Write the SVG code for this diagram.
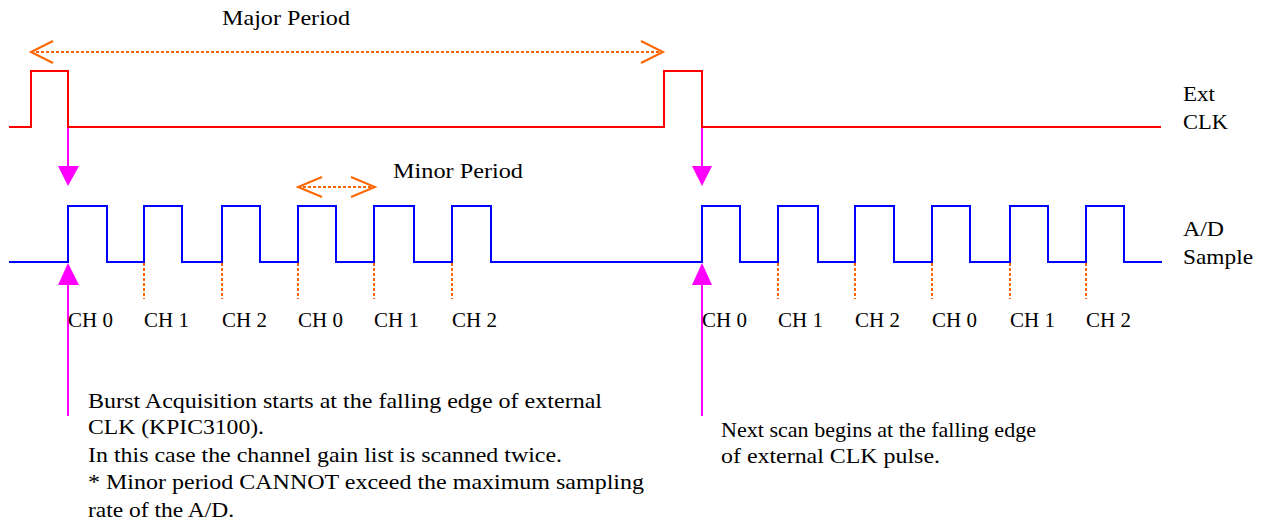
<svg xmlns="http://www.w3.org/2000/svg" width="1271" height="525" viewBox="0 0 1271 525">
<style>
text{font-family:"Liberation Serif","Times New Roman",serif;font-size:21px;fill:#000}
.clk{fill:none;stroke:#ff0000;stroke-width:2}
.ad{fill:none;stroke:#0000ff;stroke-width:2}
.dot{stroke:#ff6600;stroke-width:2;stroke-dasharray:3 2;fill:none}
.mag{stroke:#ff00ff;stroke-width:2;fill:none}
.magh{fill:#ff00ff;stroke:none}
.chev{fill:none;stroke:#ff6600;stroke-width:2}
</style>
<rect width="1271" height="525" fill="#fff"/>
<g id="connectors">
  <line class="dot" x1="31" y1="52" x2="663" y2="52"/>
  <polyline class="chev" points="53,41 31,52 53,63"/>
  <polyline class="chev" points="641,41 663,52 641,63"/>
  <line class="dot" x1="298" y1="187" x2="375" y2="187"/>
  <polyline class="chev" points="322,177 298,187 322,197"/>
  <polyline class="chev" points="351,177 375,187 351,197"/>
  <line class="mag" x1="68" y1="127" x2="68" y2="167"/>
  <polygon class="magh" points="58,166 79,166 68,186"/>
  <line class="mag" x1="702" y1="127" x2="702" y2="167"/>
  <polygon class="magh" points="692,166 712,166 702,186"/>
  <line class="mag" x1="68" y1="283" x2="68" y2="416"/>
  <polygon class="magh" points="58,285 79,285 68,263"/>
  <line class="mag" x1="702" y1="283" x2="702" y2="416"/>
  <polygon class="magh" points="692,285 712,285 702,263"/>
  <g class="dot">
    <line x1="144" y1="263" x2="144" y2="299"/>
    <line x1="222" y1="263" x2="222" y2="299"/>
    <line x1="298" y1="263" x2="298" y2="299"/>
    <line x1="374" y1="263" x2="374" y2="299"/>
    <line x1="452" y1="263" x2="452" y2="299"/>
    <line x1="778" y1="263" x2="778" y2="299"/>
    <line x1="855" y1="263" x2="855" y2="299"/>
    <line x1="932" y1="263" x2="932" y2="299"/>
    <line x1="1010" y1="263" x2="1010" y2="299"/>
    <line x1="1086" y1="263" x2="1086" y2="299"/>
  </g>
</g>
<g id="ext-clk">
  <polyline class="clk" points="9,127 31,127 31,71 68,71 68,127 664,127 664,71 702,71 702,127 1161,127"/>
  <text x="1183" y="101" textLength="32" lengthAdjust="spacingAndGlyphs">Ext</text>
  <text x="1183" y="129" textLength="45" lengthAdjust="spacingAndGlyphs">CLK</text>
</g>
<g id="ad-sample">
  <polyline class="ad" points="9,262 68,262 68,206 107,206 107,262 144,262 144,206 182,206 182,262 222,262 222,206 260,206 260,262 298,262 298,206 336,206 336,262 374,262 374,206 414,206 414,262 452,262 452,206 491,206 491,262 702,262 702,206 740,206 740,262 778,262 778,206 818,206 818,262 855,262 855,206 894,206 894,262 932,262 932,206 970,206 970,262 1010,262 1010,206 1048,206 1048,262 1086,262 1086,206 1124,206 1124,262 1162,262"/>
  <text x="1183" y="236" textLength="41" lengthAdjust="spacingAndGlyphs">A/D</text>
  <text x="1183" y="264" textLength="70" lengthAdjust="spacingAndGlyphs">Sample</text>
</g>
<g id="channels">
  <text x="68" y="327">CH 0</text>
  <text x="144" y="327">CH 1</text>
  <text x="222" y="327">CH 2</text>
  <text x="298" y="327">CH 0</text>
  <text x="374" y="327">CH 1</text>
  <text x="452" y="327">CH 2</text>
  <text x="702" y="327">CH 0</text>
  <text x="778" y="327">CH 1</text>
  <text x="855" y="327">CH 2</text>
  <text x="932" y="327">CH 0</text>
  <text x="1010" y="327">CH 1</text>
  <text x="1086" y="327">CH 2</text>
</g>
<g id="labels">
  <text x="222" y="25" textLength="128" lengthAdjust="spacingAndGlyphs">Major Period</text>
  <text x="393" y="178" textLength="130" lengthAdjust="spacingAndGlyphs">Minor Period</text>
</g>
<g id="note-burst">
  <text x="88" y="408" textLength="514" lengthAdjust="spacingAndGlyphs">Burst Acquisition starts at the falling edge of external</text>
  <text x="88" y="434" textLength="176" lengthAdjust="spacingAndGlyphs">CLK (KPIC3100).</text>
  <text x="88" y="462" textLength="474" lengthAdjust="spacingAndGlyphs">In this case the channel gain list is scanned twice.</text>
  <text x="88" y="489" textLength="556" lengthAdjust="spacingAndGlyphs">* Minor period CANNOT exceed the maximum sampling</text>
  <text x="88" y="517" textLength="146" lengthAdjust="spacingAndGlyphs">rate of the A/D.</text>
</g>
<g id="note-next">
  <text x="721" y="437" textLength="315" lengthAdjust="spacingAndGlyphs">Next scan begins at the falling edge</text>
  <text x="721" y="463" textLength="219" lengthAdjust="spacingAndGlyphs">of external CLK pulse.</text>
</g>
</svg>
